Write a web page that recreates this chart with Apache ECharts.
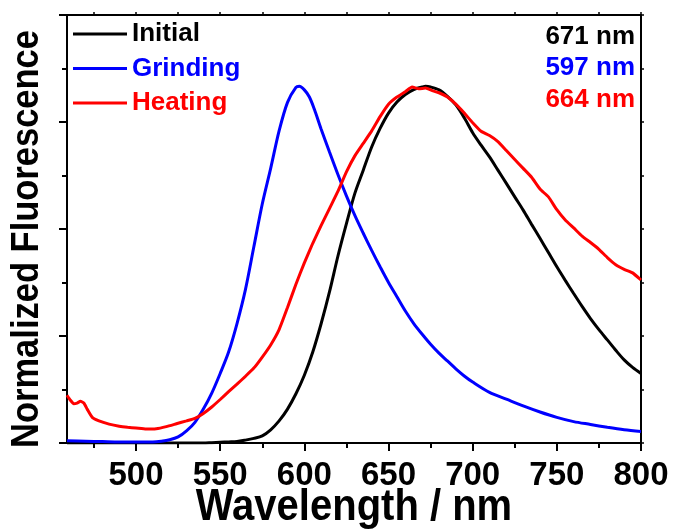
<!DOCTYPE html>
<html>
<head>
<meta charset="utf-8">
<script src="https://cdn.jsdelivr.net/npm/echarts@6/dist/echarts.min.js"></script>
<style>
  html, body { margin: 0; padding: 0; background: #fff; }
  #chart { width: 673px; height: 530px; }
</style>
</head>
<body>
<div id="chart"></div>
<script>
// Emission spectra (normalized) of the three solid states
const initialWl = [459, 470, 480, 490, 500, 510, 520, 530, 540, 545, 550, 555, 560, 565, 570, 575, 580, 585, 590, 595, 600, 605, 610, 615, 620, 625, 630, 635, 640, 645, 650, 655, 660, 665, 670, 672, 675, 680, 685, 690, 695, 700, 705, 710, 715, 720, 725, 730, 735, 740, 745, 750, 755, 760, 765, 770, 775, 780, 785, 790, 795, 800];
const initialVal = [0, 0, 0, 0, 0, 0, 0, 0, 0, 0.001, 0.002, 0.003, 0.004, 0.008, 0.013, 0.02, 0.037, 0.062, 0.095, 0.138, 0.19, 0.255, 0.335, 0.425, 0.525, 0.615, 0.7, 0.765, 0.83, 0.882, 0.925, 0.956, 0.977, 0.991, 0.998, 1.0, 0.998, 0.99, 0.972, 0.948, 0.912, 0.87, 0.835, 0.802, 0.765, 0.728, 0.69, 0.653, 0.613, 0.574, 0.534, 0.494, 0.456, 0.419, 0.383, 0.349, 0.318, 0.289, 0.26, 0.233, 0.212, 0.195];

const grindingWl = [459, 470, 480, 490, 500, 510, 515, 520, 525, 530, 535, 540, 545, 550, 555, 560, 565, 570, 575, 580, 585, 590, 595, 597, 600, 603, 606, 610, 615, 620, 625, 630, 635, 640, 645, 650, 655, 660, 665, 670, 675, 680, 685, 690, 695, 700, 710, 720, 730, 740, 750, 760, 770, 780, 790, 800];
const grindingVal = [0.006, 0.005, 0.004, 0.003, 0.003, 0.003, 0.005, 0.009, 0.017, 0.034, 0.058, 0.095, 0.14, 0.195, 0.255, 0.335, 0.43, 0.55, 0.67, 0.77, 0.875, 0.955, 0.997, 1.0, 0.99, 0.97, 0.935, 0.88, 0.815, 0.752, 0.693, 0.638, 0.588, 0.54, 0.494, 0.45, 0.41, 0.37, 0.335, 0.305, 0.277, 0.252, 0.23, 0.208, 0.188, 0.171, 0.142, 0.123, 0.104, 0.087, 0.072, 0.06, 0.052, 0.044, 0.037, 0.032];

const heatingWl = [459, 461, 463, 465, 467, 469, 471, 474, 478, 484, 490, 495, 500, 506, 512, 518, 524, 530, 535, 540, 545, 550, 555, 560, 565, 570, 575, 580, 585, 590, 595, 600, 605, 610, 615, 620, 625, 630, 635, 640, 645, 650, 655, 660, 664, 668, 672, 676, 680, 685, 690, 695, 700, 705, 710, 715, 720, 725, 730, 735, 740, 745, 750, 755, 760, 765, 770, 775, 780, 785, 790, 795, 800];
const heatingVal = [0.134, 0.12, 0.11, 0.112, 0.117, 0.112, 0.095, 0.072, 0.062, 0.053, 0.047, 0.044, 0.042, 0.039, 0.04, 0.046, 0.054, 0.062, 0.069, 0.083, 0.101, 0.122, 0.144, 0.165, 0.187, 0.21, 0.241, 0.275, 0.318, 0.38, 0.445, 0.505, 0.56, 0.61, 0.658, 0.706, 0.76, 0.805, 0.84, 0.875, 0.915, 0.95, 0.97, 0.985, 0.998, 0.993, 0.995, 0.988, 0.982, 0.97, 0.95, 0.925, 0.898, 0.874, 0.862, 0.845, 0.82, 0.795, 0.77, 0.745, 0.712, 0.69, 0.654, 0.625, 0.603, 0.58, 0.562, 0.543, 0.52, 0.5, 0.487, 0.477, 0.457];

const seriesNames = ['Initial', 'Grinding', 'Heating'];
const seriesColors = ['#000000', '#0000ff', '#ff0000'];
const peakLabels = ['671 nm', '597 nm', '664 nm'];

const xMajorTicks = [500, 550, 600, 650, 700, 750, 800];
const xMinorTicks = [475, 525, 575, 625, 675, 725, 775];
const xAllTicks = [475, 500, 525, 550, 575, 600, 625, 650, 675, 700, 725, 750, 775, 800];

const xTitle = 'Wavelength / nm';
const yTitle = 'Normalized Fluorescence';

const FONT = '"Liberation Sans", Arial, sans-serif';

function pairs(xs, ys) { return xs.map((x, i) => [x, ys[i]]); }

const chart = echarts.init(document.getElementById('chart'), null, { renderer: 'canvas' });

const axisLine = { show: true, onZero: false, lineStyle: { color: '#000', width: 2 } };
const xRange = { min: 459, max: 800 };

chart.setOption({
  animation: false,
  backgroundColor: '#fff',
  grid: { left: 67, right: 32, top: 15, bottom: 87, containLabel: false, outerBoundsMode: 'none' },
  xAxis: [
    {
      type: 'value', position: 'bottom', ...xRange,
      axisLine,
      splitLine: { show: false },
      axisTick: { show: true, inside: false, length: 8, customValues: xMajorTicks, lineStyle: { color: '#000', width: 2 } },
      axisLabel: { show: true, customValues: xMajorTicks, margin: 16, color: '#000', fontFamily: FONT, fontWeight: 'bold', fontSize: 33 }
    },
    {
      type: 'value', position: 'bottom', ...xRange,
      axisLine: { show: false },
      splitLine: { show: false },
      axisTick: { show: true, inside: false, length: 5, customValues: xMinorTicks, lineStyle: { color: '#000', width: 2 } },
      axisLabel: { show: false }
    },
    {
      type: 'value', position: 'top', ...xRange,
      axisLine,
      splitLine: { show: false },
      axisTick: { show: true, inside: false, length: 3, customValues: xAllTicks, lineStyle: { color: '#000', width: 1.5 } },
      axisLabel: { show: false }
    }
  ],
  yAxis: [
    {
      type: 'value', position: 'left', min: 0, max: 1.2, interval: 0.3,
      axisLine,
      splitLine: { show: false },
      axisTick: { show: true, inside: false, length: 8, lineStyle: { color: '#000', width: 2 } },
      minorTick: { show: true, splitNumber: 2, length: 5, lineStyle: { color: '#000', width: 2 } },
      minorSplitLine: { show: false },
      axisLabel: { show: false }
    },
    {
      type: 'value', position: 'right', min: 0, max: 1.2, interval: 0.15,
      axisLine,
      splitLine: { show: false },
      axisTick: { show: true, inside: false, length: 3, lineStyle: { color: '#000', width: 1.5 } },
      axisLabel: { show: false }
    }
  ],
  legend: {
    show: true,
    orient: 'vertical',
    left: 73, top: 21,
    padding: 0,
    itemWidth: 54, itemHeight: 3, itemGap: 8.5,
    icon: 'rect',
    selectedMode: false,
    textStyle: { fontFamily: FONT, fontWeight: 'bold', fontSize: 26, lineHeight: 26, padding: [0, 0, 0, 0] },
    data: seriesNames.map((n, i) => ({ name: n, itemStyle: { color: seriesColors[i] }, textStyle: { color: seriesColors[i] } }))
  },
  series: [
    { name: seriesNames[0], type: 'line', data: pairs(initialWl, initialVal), showSymbol: false, smooth: 0.3, lineStyle: { color: seriesColors[0], width: 3 }, itemStyle: { color: seriesColors[0] } },
    { name: seriesNames[1], type: 'line', data: pairs(grindingWl, grindingVal), showSymbol: false, smooth: 0.3, lineStyle: { color: seriesColors[1], width: 3 }, itemStyle: { color: seriesColors[1] } },
    { name: seriesNames[2], type: 'line', data: pairs(heatingWl, heatingVal), showSymbol: false, smooth: 0.15, lineStyle: { color: seriesColors[2], width: 3 }, itemStyle: { color: seriesColors[2] } }
  ],
  graphic: [
    // peak wavelengths, right-aligned in the top-right corner
    ...peakLabels.map((t, i) => ({
      type: 'text', right: 38, top: [24, 55, 87][i],
      style: { text: t, fill: seriesColors[i], font: 'bold 26px ' + FONT, textAlign: 'right' }
    })),
    // axis titles
    {
      type: 'text', x: 354, y: 508, scaleY: 1.1,
      style: { text: xTitle, fill: '#000', font: 'bold 40px ' + FONT, textAlign: 'center', textVerticalAlign: 'middle' }
    },
    {
      type: 'text', x: 27, y: 239, rotation: Math.PI / 2, scaleY: 1.12,
      style: { text: yTitle, fill: '#000', font: 'bold 34.5px ' + FONT, textAlign: 'center', textVerticalAlign: 'middle' }
    }
  ]
});
</script>
</body>
</html>
